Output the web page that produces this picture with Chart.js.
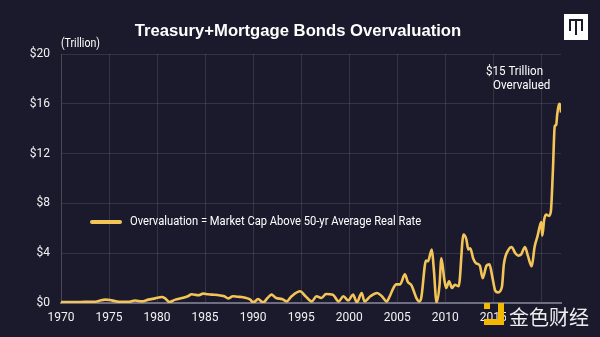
<!DOCTYPE html>
<html>
<head>
<meta charset="utf-8">
<script src="https://cdn.jsdelivr.net/npm/chart.js@4/dist/chart.umd.min.js"></script>
<style>
  html, body { margin: 0; padding: 0; background: #1a1a2c; }
  #wrap { width: 600px; height: 337px; }
</style>
</head>
<body>
<div id="wrap"><canvas id="myChart" width="600" height="337"></canvas></div>
<script>
// Overvaluation in $ trillion, sampled by decimal year
const years = [
  1970.0, 1971.0, 1972.0, 1973.0, 1973.5, 1974.0, 1974.6, 1975.1, 1975.6, 1976.0,
  1977.0, 1977.7, 1978.4, 1979.1, 1979.8, 1980.5, 1980.8, 1981.3, 1981.9, 1982.6,
  1983.2, 1983.6, 1984.3, 1984.8, 1985.3, 1985.7, 1986.3, 1987.0, 1987.4, 1987.9,
  1988.4, 1988.8, 1989.5, 1989.7, 1990.0, 1990.2, 1990.5, 1991.05, 1991.5, 1991.9,
  1992.4, 1993.0, 1993.5, 1994.0, 1994.9, 1995.4, 1996.1, 1996.6, 1997.1, 1997.6,
  1998.3, 1998.9, 1999.4, 1999.9, 2000.4, 2000.8, 2001.3, 2001.6, 2002.2, 2002.9,
  2003.4, 2003.9, 2004.2, 2004.6, 2004.9, 2005.3, 2005.8, 2006.1, 2006.5, 2007.0,
  2007.3, 2007.5, 2008.0, 2008.2, 2008.6, 2008.8, 2009.1, 2009.4, 2009.6, 2009.9,
  2010.1, 2010.4, 2010.7, 2011.0, 2011.4, 2011.9, 2012.2, 2012.4, 2012.6, 2012.9,
  2013.2, 2013.6, 2013.9, 2014.3, 2014.6, 2014.9, 2015.2, 2015.5, 2015.9, 2016.1,
  2016.6, 2016.9, 2017.3, 2017.6, 2017.9, 2018.3, 2018.6, 2019.0, 2019.3, 2019.6,
  2020.0, 2020.1, 2020.3, 2020.5, 2020.8, 2021.0, 2021.2, 2021.4, 2021.55, 2021.65,
  2021.85, 2021.95, 2022.05
];
const overvaluation = [
  0.08, 0.08, 0.08, 0.1, 0.1, 0.18, 0.27, 0.24, 0.15, 0.1,
  0.1, 0.2, 0.13, 0.27, 0.37, 0.48, 0.4, 0.08, 0.27, 0.4,
  0.54, 0.7, 0.62, 0.75, 0.7, 0.67, 0.64, 0.54, 0.37, 0.54,
  0.5, 0.48, 0.35, 0.27, 0.05, 0.13, 0.32, 0.05, 0.4, 0.67,
  0.4, 0.32, 0.13, 0.54, 0.94, 0.59, 0.13, 0.54, 0.4, 0.72,
  0.67, 0.13, 0.54, 0.21, 0.67, 0.05, 0.8, 0.13, 0.54, 0.8,
  0.54, 0.13, 0.5, 1.2, 1.5, 1.5, 2.3, 1.7, 1.4, 0.4,
  0.13, 0.4, 3.4, 3.35, 4.3, 2.8, 0.05, 1.4, 3.6, 1.9,
  1.2, 1.74, 1.2, 1.47, 1.34, 5.5, 5.1, 4.3, 4.4, 3.6,
  3.2, 3.0, 2.0, 3.0, 3.1, 2.1, 1.0, 0.85, 1.3, 3.1,
  4.3, 4.5, 4.0, 3.8, 3.9, 4.5, 3.8, 2.95, 4.5, 5.35,
  6.5, 5.4, 6.7, 7.1, 7.0, 7.4, 10.5, 14.2, 14.3, 15.1,
  16.0, 15.9, 15.3
];
const xTicks = [1970, 1975, 1980, 1985, 1990, 1995, 2000, 2005, 2010, 2015, 2020];
const yTicks = [0, 4, 8, 12, 16, 20];

const seriesLabel = 'Overvaluation = Market Cap Above 50-yr Average Real Rate';
const lineColor = '#f3c457';
const bgColor = '#1a1a2c';
const sans = 'Roboto, "Liberation Sans", sans-serif';

// squeeze text horizontally, the original lettering is a condensed face
function narrowText(ctx, text, x, y, sx) {
  ctx.save();
  ctx.translate(x, y);
  ctx.scale(sx, 1);
  ctx.fillText(text, 0, 0);
  ctx.restore();
}

// Title, legend, note and corner marks drawn straight onto the canvas
const decorations = {
  id: 'decorations',
  beforeDraw(chart) {
    const ctx = chart.ctx;
    ctx.save();
    ctx.fillStyle = bgColor;
    ctx.fillRect(0, 0, chart.width, chart.height);
    ctx.restore();
  },
  afterDraw(chart) {
    const ctx = chart.ctx;
    ctx.save();

    // title
    ctx.fillStyle = '#ffffff';
    ctx.font = 'bold 17px "Liberation Sans", Arial, sans-serif';
    ctx.textAlign = 'center';
    ctx.textBaseline = 'middle';
    narrowText(ctx, 'Treasury+Mortgage Bonds Overvaluation', 298, 31, 0.98);

    // unit
    ctx.font = '12px ' + sans;
    ctx.textAlign = 'left';
    narrowText(ctx, '(Trillion)', 61, 44, 0.88);

    // legend
    const ds = chart.data.datasets[0];
    ctx.strokeStyle = ds.borderColor;
    ctx.lineWidth = 4;
    ctx.lineCap = 'round';
    ctx.beginPath();
    ctx.moveTo(92, 222);
    ctx.lineTo(120, 222);
    ctx.stroke();
    ctx.font = '13px ' + sans;
    narrowText(ctx, ds.label, 130, 222, 0.86);

    // note near the last point
    ctx.font = '13px ' + sans;
    narrowText(ctx, '$15 Trillion', 486, 72, 0.89);
    narrowText(ctx, 'Overvalued', 493, 86, 0.89);

    // logo box, top right
    ctx.fillStyle = '#ffffff';
    ctx.fillRect(564, 14, 24, 26);
    ctx.fillStyle = '#1a1a2c';
    ctx.fillRect(569, 19, 14, 2);
    ctx.fillRect(569, 19, 2, 12);
    ctx.fillRect(575, 19, 2, 16);
    ctx.fillRect(581, 19, 2, 12);

    // watermark
    ctx.fillStyle = bgColor;
    ctx.fillRect(506, 306, 90, 26);
    ctx.fillStyle = '#f5b800';
    ctx.fillRect(498, 303, 6, 22);
    ctx.fillRect(484, 319, 20, 6);
    ctx.fillRect(484, 303, 6, 6);
    ctx.fillStyle = 'rgba(255,255,255,0.92)';
    ctx.font = '20px "Noto Sans CJK SC", sans-serif';
    ctx.textAlign = 'left';
    ctx.fillText('金色财经', 509, 317);

    ctx.restore();
  }
};

const ctx = document.getElementById('myChart');

const myChart = new Chart(ctx, {
  type: 'line',
  data: {
    datasets: [{
      label: seriesLabel,
      data: years.map((y, i) => ({ x: y, y: overvaluation[i] })),
      borderColor: lineColor,
      borderWidth: 2.6,
      pointRadius: 0,
      tension: 0.3,
      cubicInterpolationMode: 'monotone'
    }]
  },
  options: {
    responsive: false,
    animation: false,
    layout: { padding: { top: 54, right: 39, left: 0, bottom: 0 } },
    plugins: {
      legend: { display: false },
      tooltip: { enabled: false }
    },
    scales: {
      x: {
        type: 'linear',
        min: 1970,
        max: 2022.05,
        afterBuildTicks: (axis) => { axis.ticks = xTicks.map(v => ({ value: v })); },
        afterFit: (axis) => { axis.height = 34; },
        grid: { color: 'rgba(255,255,255,0.11)', drawTicks: false },
        border: { color: '#6e6e80', width: 2 },
        ticks: {
          color: '#f2f2f2',
          padding: 8,
          maxRotation: 0,
          font: { family: sans, size: 12 },
          callback: (v) => String(v)
        }
      },
      y: {
        min: 0,
        max: 20,
        afterBuildTicks: (axis) => { axis.ticks = yTicks.map(v => ({ value: v })); },
        afterFit: (axis) => { axis.width = 61; },
        grid: { color: 'rgba(255,255,255,0.11)', drawTicks: false },
        border: { color: 'rgba(255,255,255,0.11)' },
        ticks: {
          color: '#f2f2f2',
          padding: 11,
          font: { family: sans, size: 12 },
          callback: (v) => '$' + v
        }
      }
    }
  },
  plugins: [decorations]
});
</script>
</body>
</html>
